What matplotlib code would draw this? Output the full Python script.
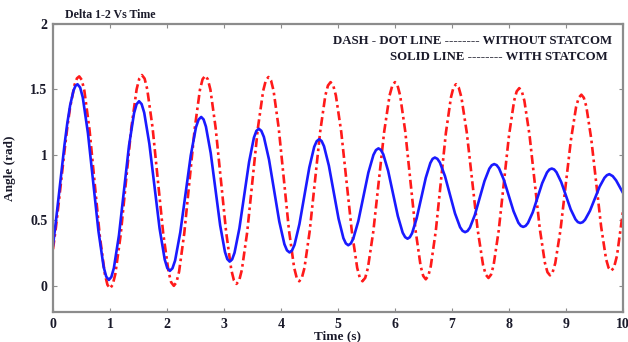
import matplotlib
matplotlib.use("Agg")
import matplotlib.pyplot as plt

plt.rcParams['font.family'] = ['Liberation Serif', 'DejaVu Serif']
plt.rcParams['font.weight'] = 'bold'

# Rotor angle difference delta 1-2 (rad) against time (s), with STATCOM
time_with = [
    0.00, 0.05, 0.10, 0.15, 0.20, 0.25, 0.30, 0.36, 0.395, 0.43,
    0.476, 0.522, 0.613, 0.705, 0.797, 0.888, 0.934, 0.98,
    1.024, 1.068, 1.157, 1.245, 1.333, 1.422, 1.466, 1.51,
    1.555, 1.60, 1.69, 1.78, 1.87, 1.96, 2.005, 2.05,
    2.096, 2.142, 2.233, 2.325, 2.417, 2.508, 2.554, 2.60,
    2.642, 2.683, 2.767, 2.85, 2.933, 3.017, 3.058, 3.10,
    3.143, 3.185, 3.27, 3.355, 3.44, 3.525, 3.568, 3.61,
    3.655, 3.70, 3.79, 3.88, 3.97, 4.06, 4.105, 4.15,
    4.193, 4.237, 4.323, 4.41, 4.497, 4.583, 4.627, 4.67,
    4.713, 4.755, 4.84, 4.925, 5.01, 5.095, 5.138, 5.18,
    5.224, 5.268, 5.357, 5.445, 5.533, 5.622, 5.666, 5.71,
    5.753, 5.795, 5.88, 5.965, 6.05, 6.135, 6.178, 6.22,
    6.26, 6.30, 6.38, 6.46, 6.54, 6.62, 6.66, 6.70,
    6.744, 6.788, 6.877, 6.965, 7.053, 7.142, 7.186, 7.23,
    7.273, 7.315, 7.40, 7.485, 7.57, 7.655, 7.698, 7.74,
    7.783, 7.825, 7.91, 7.995, 8.08, 8.165, 8.208, 8.25,
    8.292, 8.333, 8.417, 8.50, 8.583, 8.667, 8.708, 8.75,
    8.792, 8.833, 8.917, 9.00, 9.083, 9.167, 9.208, 9.25,
    9.293, 9.335, 9.42, 9.505, 9.59, 9.675, 9.718, 9.76,
    9.82, 9.88, 10.00,
]
delta_with = [
    0.31, 0.49, 0.684, 0.882, 1.071, 1.24, 1.378, 1.492, 1.528, 1.54,
    1.515, 1.440, 1.166, 0.793, 0.419, 0.145, 0.070, 0.045,
    0.068, 0.136, 0.386, 0.728, 1.069, 1.319, 1.387, 1.41,
    1.388, 1.323, 1.086, 0.762, 0.438, 0.201, 0.136, 0.114,
    0.134, 0.193, 0.408, 0.702, 0.996, 1.211, 1.27, 1.29,
    1.271, 1.216, 1.014, 0.738, 0.461, 0.259, 0.204, 0.185,
    0.202, 0.253, 0.439, 0.693, 0.946, 1.132, 1.183, 1.20,
    1.184, 1.137, 0.964, 0.728, 0.491, 0.318, 0.271, 0.255,
    0.270, 0.313, 0.471, 0.688, 0.904, 1.062, 1.105, 1.12,
    1.106, 1.066, 0.918, 0.715, 0.513, 0.364, 0.324, 0.31,
    0.323, 0.360, 0.495, 0.68, 0.865, 1.000, 1.037, 1.05,
    1.038, 1.004, 0.878, 0.705, 0.533, 0.406, 0.372, 0.36,
    0.371, 0.402, 0.515, 0.67, 0.825, 0.938, 0.970, 0.98,
    0.970, 0.942, 0.838, 0.695, 0.553, 0.448, 0.420, 0.41,
    0.419, 0.445, 0.54, 0.67, 0.80, 0.895, 0.921, 0.93,
    0.922, 0.898, 0.81, 0.69, 0.57, 0.482, 0.458, 0.45,
    0.458, 0.480, 0.5615, 0.673, 0.7845, 0.866, 0.888, 0.896,
    0.889, 0.868, 0.792, 0.688, 0.584, 0.508, 0.487, 0.48,
    0.486, 0.505, 0.5725, 0.665, 0.7575, 0.825, 0.845, 0.853,
    0.838, 0.805, 0.71,
]

# Rotor angle difference delta 1-2 (rad) against time (s), without STATCOM
time_without = [
    0.00, 0.05, 0.10, 0.15, 0.20, 0.25, 0.30, 0.38, 0.42, 0.46,
    0.505, 0.55, 0.64, 0.73, 0.82, 0.91, 0.955, 1.00,
    1.047, 1.093, 1.187, 1.28, 1.373, 1.467, 1.513, 1.56,
    1.607, 1.653, 1.747, 1.84, 1.933, 2.027, 2.073, 2.12,
    2.166, 2.212, 2.303, 2.395, 2.487, 2.578, 2.624, 2.67,
    2.716, 2.762, 2.853, 2.945, 3.037, 3.128, 3.174, 3.22,
    3.267, 3.313, 3.407, 3.50, 3.593, 3.687, 3.733, 3.78,
    3.825, 3.87, 3.96, 4.05, 4.14, 4.23, 4.275, 4.32,
    4.366, 4.412, 4.503, 4.595, 4.687, 4.778, 4.824, 4.87,
    4.917, 4.963, 5.057, 5.15, 5.243, 5.337, 5.383, 5.43,
    5.478, 5.525, 5.62, 5.715, 5.81, 5.905, 5.953, 6.00,
    6.045, 6.09, 6.18, 6.27, 6.36, 6.45, 6.495, 6.54,
    6.584, 6.628, 6.717, 6.805, 6.893, 6.982, 7.026, 7.07,
    7.118, 7.165, 7.26, 7.355, 7.45, 7.545, 7.593, 7.64,
    7.685, 7.73, 7.82, 7.91, 8.00, 8.09, 8.135, 8.18,
    8.225, 8.27, 8.36, 8.45, 8.54, 8.63, 8.675, 8.72,
    8.766, 8.812, 8.903, 8.995, 9.087, 9.178, 9.224, 9.27,
    9.313, 9.357, 9.443, 9.53, 9.617, 9.703, 9.747, 9.79,
    9.84, 9.895, 10.00,
]
delta_without = [
    0.28, 0.443, 0.632, 0.829, 1.024, 1.206, 1.363, 1.538, 1.585, 1.60,
    1.573, 1.491, 1.195, 0.79, 0.385, 0.089, 0.008, -0.02,
    0.008, 0.089, 0.388, 0.795, 1.203, 1.501, 1.582, 1.61,
    1.583, 1.502, 1.208, 0.805, 0.403, 0.108, 0.027, 0.0,
    0.027, 0.108, 0.401, 0.803, 1.204, 1.498, 1.578, 1.605,
    1.578, 1.498, 1.208, 0.81, 0.413, 0.122, 0.042, 0.015,
    0.042, 0.121, 0.41, 0.805, 1.20, 1.489, 1.568, 1.595,
    1.569, 1.49, 1.205, 0.815, 0.425, 0.14, 0.062, 0.035,
    0.061, 0.137, 0.416, 0.796, 1.176, 1.454, 1.530, 1.556,
    1.530, 1.454, 1.176, 0.796, 0.416, 0.137, 0.061, 0.035,
    0.061, 0.137, 0.416, 0.796, 1.176, 1.454, 1.530, 1.556,
    1.530, 1.455, 1.180, 0.803, 0.427, 0.151, 0.076, 0.05,
    0.075, 0.15, 0.423, 0.795, 1.168, 1.44, 1.515, 1.54,
    1.515, 1.441, 1.17, 0.80, 0.43, 0.159, 0.085, 0.06,
    0.085, 0.157, 0.423, 0.785, 1.148, 1.413, 1.485, 1.51,
    1.486, 1.414, 1.153, 0.795, 0.438, 0.176, 0.104, 0.08,
    0.104, 0.173, 0.425, 0.77, 1.115, 1.368, 1.437, 1.46,
    1.437, 1.370, 1.124, 0.788, 0.451, 0.205, 0.138, 0.115,
    0.136, 0.23, 0.57,
]

x_ticks = [0, 1, 2, 3, 4, 5, 6, 7, 8, 9, 10]
y_ticks = [0, 0.5, 1, 1.5, 2]
y_tick_labels = ['0', '0.5', '1', '1.5', '2']

fig = plt.figure(figsize=(6.28, 3.42), dpi=100)
ax = fig.add_axes([0.0844, 0.0877, 0.9076, 0.8421])

ax.plot(time_without, delta_without, color='#ff1a1a', linewidth=1.9,
        dashes=(3.4, 1.4, 1.0, 1.4), solid_capstyle='butt')
ax.plot(time_with, delta_with, color='#1a1aff', linewidth=1.9)

ax.set_xlim(0, 10)
ax.set_ylim(-0.2, 2)
ax.set_xticks(x_ticks)
ax.set_xticklabels([str(t) for t in x_ticks])
ax.set_yticks(y_ticks)
ax.set_yticklabels(y_tick_labels)

frame_color = '#8c8c8c'
for side in ax.spines.values():
    side.set_color(frame_color)
    side.set_linewidth(1.6)
ax.tick_params(direction='in', length=3, width=0.8, color=frame_color,
               top=True, right=True, labelsize=10, pad=4)
for lab in ax.get_xticklabels() + ax.get_yticklabels():
    lab.set_fontweight('bold')
    lab.set_color('#1a1a2a')

ax.set_xlabel('Time (s)', fontsize=9.5, fontweight='bold', labelpad=0,
              color='#1a1a2a')
ax.set_ylabel('Angle (rad)', fontsize=9.5, fontweight='bold', labelpad=10,
              color='#1a1a2a')

fig.text(0.104, 0.955, 'Delta 1-2 Vs Time', fontsize=8.6, fontweight='bold',
         ha='left', va='center', color='#1a1a2a')

ax.text(0.981, 0.941, 'DASH - DOT LINE -------- WITHOUT STATCOM',
        transform=ax.transAxes, ha='right', va='center', fontsize=9.2,
        fontweight='bold', color='#1a1a2a')
ax.text(0.974, 0.885, 'SOLID LINE -------- WITH STATCOM',
        transform=ax.transAxes, ha='right', va='center', fontsize=9.2,
        fontweight='bold', color='#1a1a2a')

fig.savefig('out.png', dpi=100)
